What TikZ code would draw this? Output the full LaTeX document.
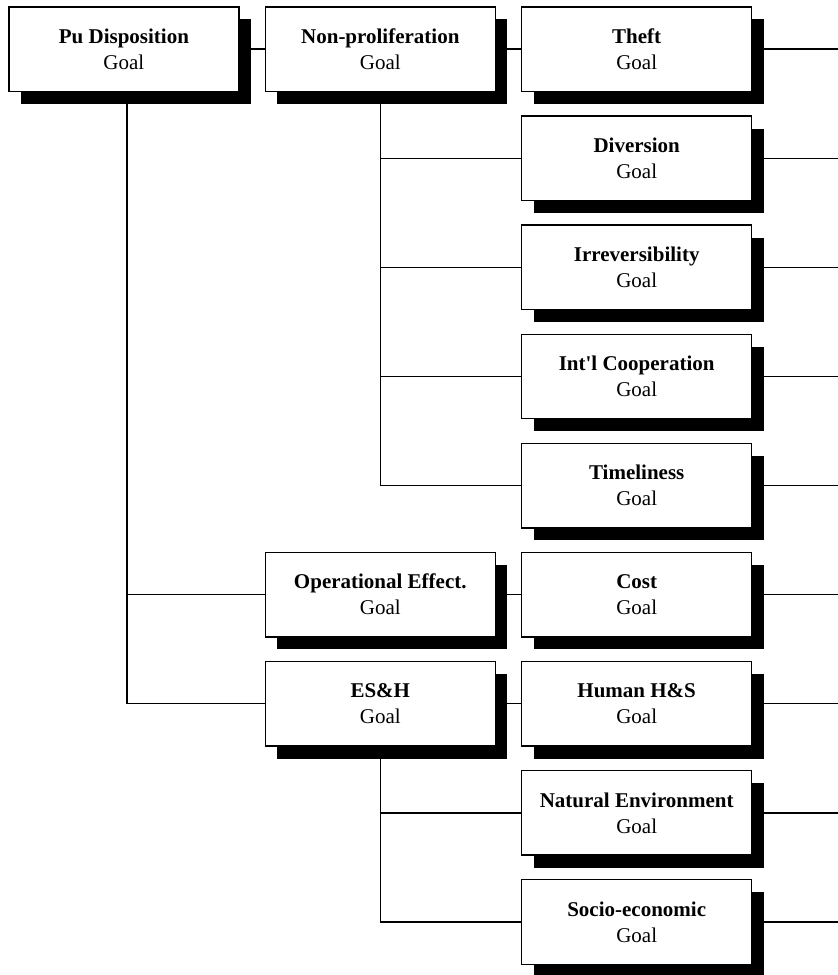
\documentclass[tikz,border=0pt]{standalone}
\usepackage{fontspec}
\setmainfont{Liberation Serif}
\usetikzlibrary{matrix, shadows}

\begin{document}
\begin{tikzpicture} [x = 1pt, y = 1pt,
  goal/.style = {draw, fill = white, line width = 1.4pt, minimum width = 230pt, minimum height = 84.5pt, align = center, inner sep = 2pt,
    font = \fontsize{21}{26}\selectfont,
    drop shadow = {shadow xshift = 12pt, shadow yshift = -12.5pt, fill = black, opacity = 1}},
  link/.style = {line width = 1.4pt}]
\useasboundingbox (0,0) rectangle (838,-975);
\coordinate (rim) at (838,0);
\matrix (m) [column sep = 25pt, row sep = 23.2pt, anchor = north west, inner sep = 0pt] at (8,-6) {
\node[goal](p){\textbf{Pu Disposition}\\Goal}; & \node[goal](n){\textbf{Non-proliferation}\\Goal}; & \node[goal](t1){\textbf{Theft}\\Goal}; \\
& & \node[goal](t2){\textbf{Diversion}\\Goal}; \\
& & \node[goal](t3){\textbf{Irreversibility}\\Goal}; \\
& & \node[goal](t4){\textbf{Int\textquotesingle l Cooperation}\\Goal}; \\
& & \node[goal](t5){\textbf{Timeliness}\\Goal}; \\
& \node[goal](o){\textbf{Operational Effect.}\\Goal}; & \node[goal](t6){\textbf{Cost}\\Goal}; \\
& \node[goal](e){\textbf{ES\&H}\\Goal}; & \node[goal](t7){\textbf{Human H\&S}\\Goal}; \\
& & \node[goal](t8){\textbf{Natural Environment}\\Goal}; \\
& & \node[goal](t9){\textbf{Socio-economic}\\Goal}; \\
};
\draw[link] (p.east) -- (n.west);
\draw[link] (n.east) -- (t1.west);
\draw[link] (n.south) |- (t2.west);
\draw[link] (n.south) |- (t3.west);
\draw[link] (n.south) |- (t4.west);
\draw[link] (n.south) |- (t5.west);
\draw[link] ([xshift=3pt]p.south) |- (o.west);
\draw[link] ([xshift=3pt]p.south) |- (e.west);
\draw[link] (o.east) -- (t6.west);
\draw[link] (e.east) -- (t7.west);
\draw[link] (e.south) |- (t8.west);
\draw[link] (e.south) |- (t9.west);
\foreach \i in {1,...,9}
  \draw[link] ([xshift=12pt]t\i.east) -- (t\i.east -| rim);
\end{tikzpicture}
\end{document}
